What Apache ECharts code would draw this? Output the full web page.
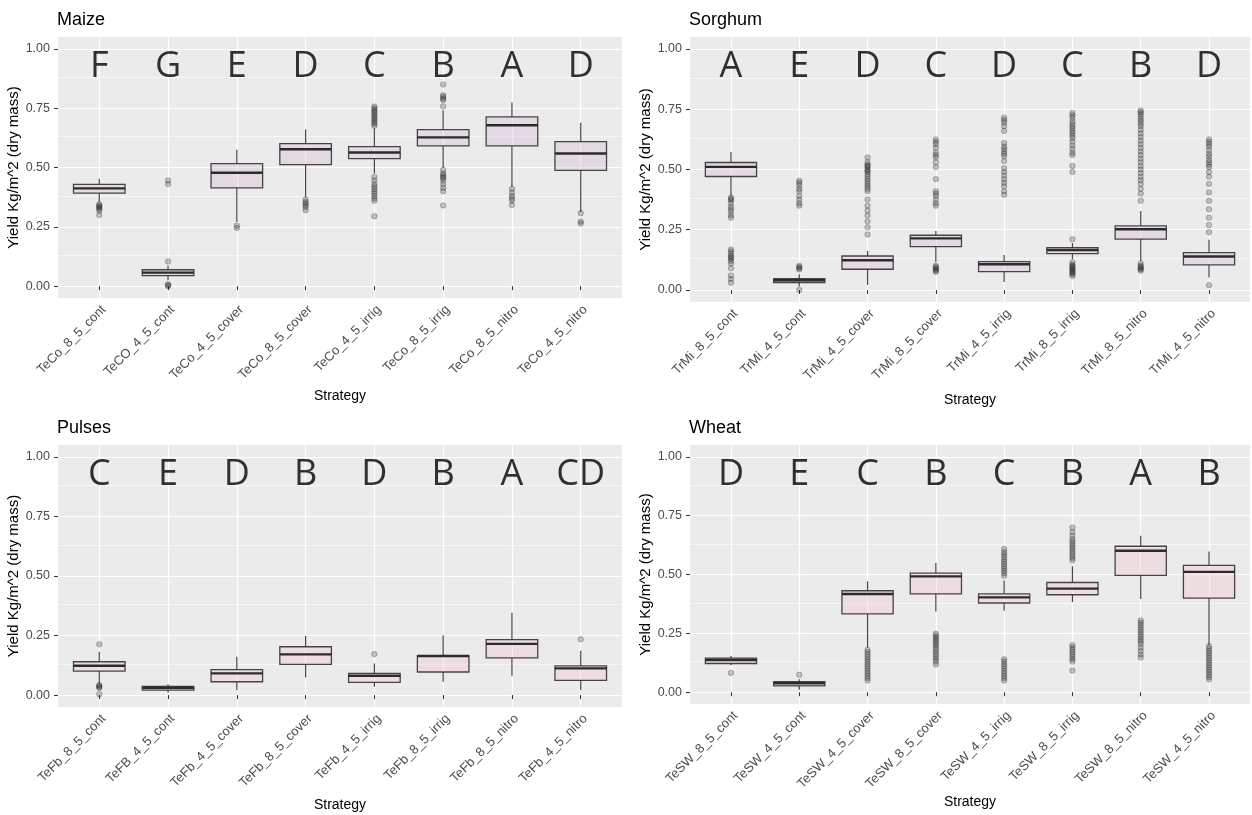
<!DOCTYPE html>
<html><head><meta charset="utf-8">
<script src="https://cdn.jsdelivr.net/npm/echarts@6/dist/echarts.min.js"></script>
<style>html,body{margin:0;padding:0;background:#fff}#c{width:1252px;height:815px}</style>
</head><body><div id="c"></div>
<script>
// ---------------- DATA ----------------
const yTicks = [0, 0.25, 0.5, 0.75, 1.0];
const yMinor = [0.125, 0.375, 0.625, 0.875];

// Maize
const maizeCats = ['TeCo_8_5_cont','TeCO_4_5_cont','TeCo_4_5_cover','TeCo_8_5_cover','TeCo_4_5_irrig','TeCo_8_5_irrig','TeCo_8_5_nitro','TeCo_4_5_nitro'];
const maizeLo  = [0.355, 0.025, 0.270, 0.375, 0.475, 0.500, 0.418, 0.312];
const maizeQ1  = [0.392, 0.044, 0.414, 0.512, 0.537, 0.591, 0.591, 0.488];
const maizeMed = [0.412, 0.057, 0.478, 0.577, 0.563, 0.627, 0.678, 0.559];
const maizeQ3  = [0.429, 0.069, 0.516, 0.601, 0.588, 0.660, 0.713, 0.609];
const maizeHi  = [0.453, 0.087, 0.575, 0.660, 0.664, 0.741, 0.774, 0.689];
const maizeOut = [
  [0.345, 0.340, 0.335, 0.330, 0.325, 0.318, 0.300],
  [0.445, 0.430, 0.104, 0.008, 0.004, 0.0],
  [0.255, 0.245],
  [0.365, 0.355, 0.348, 0.340, 0.333, 0.320],
  [0.757, 0.750, 0.742, 0.735, 0.728, 0.720, 0.712, 0.705, 0.698, 0.690, 0.683, 0.675, 0.460, 0.445, 0.430, 0.420, 0.410, 0.400, 0.390, 0.380, 0.370, 0.360, 0.295],
  [0.850, 0.805, 0.798, 0.790, 0.785, 0.758, 0.490, 0.475, 0.468, 0.460, 0.455, 0.445, 0.430, 0.415, 0.400, 0.340],
  [0.410, 0.395, 0.380, 0.370, 0.360, 0.342],
  [0.307, 0.272, 0.264]
];
const maizeLetters = ['F','G','E','D','C','B','A','D'];

// Sorghum
const sorghumCats = ['TrMi_8_5_cont','TrMi_4_5_cont','TrMi_4_5_cover','TrMi_8_5_cover','TrMi_4_5_irrig','TrMi_8_5_irrig','TrMi_8_5_nitro','TrMi_4_5_nitro'];
const sorghumLo  = [0.390, 0.014, 0.021, 0.115, 0.033, 0.128, 0.120, 0.052];
const sorghumQ1  = [0.471, 0.031, 0.086, 0.180, 0.076, 0.151, 0.211, 0.104];
const sorghumMed = [0.511, 0.040, 0.123, 0.214, 0.107, 0.166, 0.252, 0.139];
const sorghumQ3  = [0.529, 0.047, 0.141, 0.227, 0.118, 0.176, 0.266, 0.155];
const sorghumHi  = [0.573, 0.065, 0.162, 0.245, 0.145, 0.195, 0.328, 0.208];
const sorghumOut = [
  [0.383, 0.378, 0.372, 0.360, 0.345, 0.335, 0.325, 0.310, 0.300, 0.168, 0.160, 0.150, 0.140, 0.135, 0.130, 0.120, 0.110, 0.090, 0.060, 0.045, 0.030],
  [0.100, 0.095, 0.090, 0.085, 0.453, 0.445, 0.435, 0.420, 0.410, 0.390, 0.375, 0.360, 0.350, 0.0],
  [0.550, 0.530, 0.520, 0.515, 0.510, 0.500, 0.495, 0.490, 0.480, 0.470, 0.460, 0.450, 0.440, 0.430, 0.420, 0.410, 0.375, 0.350, 0.330, 0.310, 0.285, 0.260, 0.230],
  [0.625, 0.615, 0.605, 0.590, 0.570, 0.560, 0.550, 0.530, 0.510, 0.460, 0.410, 0.400, 0.390, 0.375, 0.360, 0.350, 0.100, 0.095, 0.090, 0.085, 0.080, 0.075],
  [0.715, 0.705, 0.695, 0.680, 0.660, 0.610, 0.595, 0.585, 0.575, 0.565, 0.555, 0.535, 0.505, 0.490, 0.475, 0.460, 0.445, 0.430, 0.410, 0.395],
  [0.735, 0.725, 0.715, 0.700, 0.690, 0.680, 0.670, 0.660, 0.650, 0.640, 0.630, 0.615, 0.600, 0.585, 0.570, 0.560, 0.515, 0.490, 0.210, 0.115, 0.105, 0.100, 0.095, 0.090, 0.085, 0.080, 0.075, 0.070, 0.065, 0.058],
  [0.745, 0.738, 0.730, 0.720, 0.710, 0.700, 0.690, 0.680, 0.665, 0.650, 0.635, 0.620, 0.605, 0.590, 0.575, 0.560, 0.545, 0.530, 0.515, 0.500, 0.485, 0.470, 0.455, 0.440, 0.420, 0.400, 0.370, 0.110, 0.100, 0.095, 0.090, 0.085, 0.080],
  [0.625, 0.615, 0.605, 0.595, 0.580, 0.565, 0.555, 0.540, 0.530, 0.520, 0.510, 0.490, 0.470, 0.440, 0.405, 0.370, 0.335, 0.300, 0.270, 0.240, 0.020]
];
const sorghumLetters = ['A','E','D','C','D','C','B','D'];

// Pulses
const pulsesCats = ['TeFb_8_5_cont','TeFB_4_5_cont','TeFb_4_5_cover','TeFb_8_5_cover','TeFb_4_5_irrig','TeFb_8_5_irrig','TeFb_8_5_nitro','TeFb_4_5_nitro'];
const pulsesLo  = [0.049, 0.010, 0.021, 0.074, 0.035, 0.056, 0.081, 0.021];
const pulsesQ1  = [0.101, 0.021, 0.056, 0.129, 0.053, 0.097, 0.156, 0.062];
const pulsesMed = [0.123, 0.031, 0.091, 0.171, 0.081, 0.164, 0.215, 0.112];
const pulsesQ3  = [0.140, 0.036, 0.107, 0.203, 0.091, 0.166, 0.233, 0.123];
const pulsesHi  = [0.182, 0.046, 0.161, 0.248, 0.133, 0.251, 0.346, 0.186];
const pulsesOut = [
  [0.213, 0.042, 0.038, 0.034, 0.030, 0.004],
  [], [], [],
  [0.172],
  [], [],
  [0.234]
];
const pulsesLetters = ['C','E','D','B','D','B','A','CD'];

// Wheat
const wheatCats = ['TeSW_8_5_cont','TeSW_4_5_cont','TeSW_4_5_cover','TeSW_8_5_cover','TeSW_4_5_irrig','TeSW_8_5_irrig','TeSW_8_5_nitro','TeSW_4_5_nitro'];
const wheatLo  = [0.115, 0.010, 0.190, 0.343, 0.346, 0.383, 0.396, 0.200];
const wheatQ1  = [0.122, 0.027, 0.333, 0.418, 0.379, 0.414, 0.496, 0.400];
const wheatMed = [0.137, 0.038, 0.417, 0.492, 0.403, 0.440, 0.601, 0.511];
const wheatQ3  = [0.145, 0.045, 0.431, 0.506, 0.418, 0.466, 0.620, 0.539];
const wheatHi  = [0.154, 0.055, 0.471, 0.549, 0.474, 0.535, 0.665, 0.598];
const wheatOut = [
  [0.082],
  [0.074],
  [0.180, 0.170, 0.160, 0.150, 0.140, 0.130, 0.120, 0.110, 0.100, 0.090, 0.080, 0.070, 0.060, 0.050],
  [0.248, 0.240, 0.232, 0.224, 0.216, 0.208, 0.200, 0.190, 0.180, 0.170, 0.160, 0.150, 0.140, 0.130, 0.118],
  [0.608, 0.595, 0.585, 0.575, 0.565, 0.555, 0.545, 0.535, 0.525, 0.515, 0.505, 0.495, 0.140, 0.130, 0.120, 0.110, 0.100, 0.090, 0.080, 0.070, 0.060, 0.050],
  [0.700, 0.680, 0.665, 0.650, 0.640, 0.630, 0.620, 0.610, 0.600, 0.590, 0.580, 0.570, 0.560, 0.200, 0.190, 0.180, 0.170, 0.160, 0.150, 0.140, 0.130, 0.092],
  [0.305, 0.295, 0.285, 0.275, 0.265, 0.255, 0.245, 0.235, 0.225, 0.215, 0.205, 0.190, 0.175, 0.160, 0.147],
  [0.195, 0.185, 0.175, 0.165, 0.155, 0.145, 0.135, 0.125, 0.115, 0.105, 0.095, 0.085, 0.075, 0.065, 0.055]
];
const wheatLetters = ['D','E','C','B','C','B','A','B'];

// ---------------- BUILD ----------------
const panels = [
  {title:'Maize',   cats:maizeCats,   lo:maizeLo,   q1:maizeQ1,   med:maizeMed,   q3:maizeQ3,   hi:maizeHi,   out:maizeOut,   letters:maizeLetters,
   grid:{left:58, top:37, width:564, height:261}, fill:'rgba(212,188,212,0.38)'},
  {title:'Sorghum', cats:sorghumCats, lo:sorghumLo, q1:sorghumQ1, med:sorghumMed, q3:sorghumQ3, hi:sorghumHi, out:sorghumOut, letters:sorghumLetters,
   grid:{left:690, top:37, width:560, height:265}, fill:'rgba(218,190,212,0.38)'},
  {title:'Pulses',  cats:pulsesCats,  lo:pulsesLo,  q1:pulsesQ1,  med:pulsesMed,  q3:pulsesQ3,  hi:pulsesHi,  out:pulsesOut,  letters:pulsesLetters,
   grid:{left:58, top:445, width:564, height:262}, fill:'rgba(240,196,206,0.36)'},
  {title:'Wheat',   cats:wheatCats,   lo:wheatLo,   q1:wheatQ1,   med:wheatMed,   q3:wheatQ3,   hi:wheatHi,   out:wheatOut,   letters:wheatLetters,
   grid:{left:690, top:445, width:560, height:259}, fill:'rgba(240,198,206,0.36)'}
];

const catPos = [1,2,3,4,5,6,7,8];
const FONT = "'Liberation Sans', Arial, sans-serif";

const option = {
  animation: false,
  backgroundColor: '#ffffff',
  title: [], grid: [], xAxis: [], yAxis: [], series: []
};

panels.forEach((p, gi) => {
  option.title.push({
    text: p.title, left: p.grid.left - 1, top: p.grid.top - 26, padding: 0,
    textStyle: {fontFamily: FONT, fontSize: 18, fontWeight: 'normal', color: '#000'}
  });
  option.grid.push(Object.assign({show: true, backgroundColor: '#EBEBEB', borderWidth: 0}, p.grid));
  option.xAxis.push({
    gridIndex: gi, type: 'value', min: 0.4, max: 8.6,
    axisLine: {show: false},
    axisTick: {show: true, customValues: catPos, length: 4, lineStyle: {color: '#333', width: 1}},
    axisLabel: {show: true, customValues: catPos, rotate: 45, margin: 5, verticalAlign: 'top',
      fontFamily: FONT, fontSize: 13, color: '#4D4D4D',
      formatter: (v) => p.cats[Math.round(v) - 1]},
    splitLine: {show: true, lineStyle: {color: '#FFFFFF', width: 1.2}},
    name: 'Strategy', nameLocation: 'middle', nameGap: 91,
    nameTextStyle: {fontFamily: FONT, fontSize: 14, color: '#000'}
  });
  option.yAxis.push({
    gridIndex: gi, type: 'value', min: -0.05, max: 1.05,
    axisLine: {show: false},
    axisTick: {show: true, customValues: yTicks, length: 4, lineStyle: {color: '#333', width: 1}},
    axisLabel: {show: true, customValues: yTicks, margin: 8, fontFamily: FONT, fontSize: 12.5, color: '#4D4D4D',
      formatter: (v) => v.toFixed(2)},
    splitLine: {show: true, lineStyle: {color: '#FFFFFF', width: 1.2}},
    name: 'Yield Kg/m^2 (dry mass)', nameLocation: 'middle', nameGap: 36,
    nameTextStyle: {fontFamily: FONT, fontSize: 15, color: '#000'}
  });

  const boxData = p.cats.map((c, i) => [i + 1, p.lo[i], p.q1[i], p.med[i], p.q3[i], p.hi[i]]);
  const fill = p.fill;
  option.series.push({
    type: 'custom', xAxisIndex: gi, yAxisIndex: gi, z: 2,
    encode: {x: 0, y: [1, 2, 3, 4, 5]},
    data: boxData,
    renderItem: function (params, api) {
      const x = api.value(0);
      const lo = api.coord([x, api.value(1)]);
      const q1 = api.coord([x, api.value(2)]);
      const md = api.coord([x, api.value(3)]);
      const q3 = api.coord([x, api.value(4)]);
      const hi = api.coord([x, api.value(5)]);
      const half = api.size([0.75, 0], [x, 0])[0] / 2;
      const stroke = 'rgba(40,40,40,0.85)';
      return {type: 'group', children: [
        {type: 'line', shape: {x1: lo[0], y1: lo[1], x2: q1[0], y2: q1[1]}, style: {stroke: stroke, lineWidth: 1.2}},
        {type: 'line', shape: {x1: q3[0], y1: q3[1], x2: hi[0], y2: hi[1]}, style: {stroke: stroke, lineWidth: 1.2}},
        {type: 'rect', shape: {x: q3[0] - half, y: q3[1], width: half * 2, height: q1[1] - q3[1]},
          style: {fill: fill, stroke: stroke, lineWidth: 1.3}},
        {type: 'line', shape: {x1: md[0] - half, y1: md[1], x2: md[0] + half, y2: md[1]}, style: {stroke: '#2b2b2b', lineWidth: 2.4}}
      ]};
    }
  });

  const outData = [];
  p.out.forEach((arr, i) => arr.forEach(v => outData.push([i + 1, v])));
  option.series.push({
    type: 'scatter', xAxisIndex: gi, yAxisIndex: gi, z: 3,
    symbol: 'circle', symbolSize: 5.5,
    itemStyle: {color: 'rgba(30,30,30,0.3)', borderColor: 'rgba(30,30,30,0.4)', borderWidth: 0.8},
    data: outData, silent: true
  });

  option.series.push({
    type: 'scatter', xAxisIndex: gi, yAxisIndex: gi, z: 4,
    symbol: 'circle', symbolSize: 1, silent: true,
    itemStyle: {color: 'rgba(0,0,0,0)'},
    label: {show: true, position: 'inside', fontFamily: "'Open Sans', sans-serif", fontSize: 36, color: '#000',
      formatter: (prm) => p.letters[prm.dataIndex]},
    data: p.letters.map((l, i) => [i + 1, 0.925]),
    markLine: {
      silent: true, z: 1, symbol: ['none', 'none'], label: {show: false},
      lineStyle: {color: '#FFFFFF', width: 0.6, type: 'solid'},
      data: yMinor.map(v => ({yAxis: v}))
    }
  });
});

const chart = echarts.init(document.getElementById('c'), null, {renderer: 'canvas'});
chart.setOption(option);
</script></body></html>
